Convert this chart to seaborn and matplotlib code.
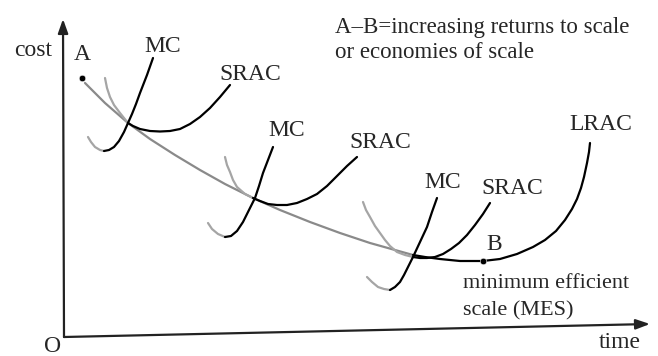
import pandas as pd
import seaborn as sns
import matplotlib.pyplot as plt

# curves, in picture units (x right, y down)
lrac_grey_x = [85, 105, 128, 150, 175, 200, 225, 253, 280, 310, 340, 370, 395, 413]
lrac_grey_y = [83, 103, 123, 139, 155, 170, 184, 198, 210, 222, 233, 243, 250, 255]
lrac_x = [413, 425, 440, 460, 483, 500, 517, 533, 545, 556, 565, 572, 577, 581, 584, 587, 589, 590]
lrac_y = [255, 257, 259, 261, 261, 259, 254, 247, 240, 231, 220, 209, 199, 188, 177, 163, 152, 143]

srac1_grey_x = [105, 107, 110, 114, 120, 128]
srac1_grey_y = [78, 88, 97, 105, 113, 123]
srac1_x = [128, 133, 140, 150, 160, 170, 180, 190, 200, 210, 220, 230]
srac1_y = [123, 126, 129, 131, 131.5, 131, 129, 124, 117, 108, 97, 85]
mc1_grey_x = [88, 91, 95, 100, 104]
mc1_grey_y = [137, 142, 147, 150, 151]
mc1_x = [104, 109, 114, 119, 124, 128, 132, 136, 140, 147, 153]
mc1_y = [151, 150, 147, 141, 132, 123, 114, 104, 93, 75, 58]

srac2_grey_x = [225, 227, 230, 233, 237, 245, 253]
srac2_grey_y = [157, 165, 172, 180, 187, 194, 198]
srac2_x = [253, 260, 268, 277, 287, 297, 307, 317, 327, 337, 347, 357]
srac2_y = [198, 201, 204, 205, 205, 203, 199, 194, 186, 176, 166, 157]
mc2_grey_x = [208, 212, 218, 225]
mc2_grey_y = [223, 229, 234, 237]
mc2_x = [225, 231, 237, 243, 249, 255, 259, 263, 268, 273]
mc2_y = [237, 236, 231, 222, 210, 198, 186, 173, 160, 147]

srac3_grey_x = [363, 366, 370, 375, 380, 385, 390, 397, 405, 413]
srac3_grey_y = [202, 210, 217, 226, 233, 240, 246, 252, 255, 257]
srac3_x = [413, 420, 427, 435, 443, 451, 459, 467, 475, 483, 490]
srac3_y = [257, 258, 258, 257, 254, 249, 243, 235, 225, 214, 203]
mc3_grey_x = [367, 372, 378, 384, 390]
mc3_grey_y = [277, 282, 287, 289, 290]
mc3_x = [390, 395, 400, 404, 408, 413, 420, 427, 432, 437]
mc3_y = [290, 287, 282, 275, 267, 257, 242, 227, 212, 198]

point_labels = ["A", "B"]
point_x = [82, 483]
point_y = [78, 261]

origin = (64, 337)
y_axis_top = (63, 19)
x_axis_end = (650, 324)

parts = {
    "lrac_grey": (lrac_grey_x, lrac_grey_y, "#8a8a8a"),
    "lrac": (lrac_x, lrac_y, "black"),
    "srac1_grey": (srac1_grey_x, srac1_grey_y, "#a5a5a5"),
    "srac1": (srac1_x, srac1_y, "black"),
    "mc1_grey": (mc1_grey_x, mc1_grey_y, "#a5a5a5"),
    "mc1": (mc1_x, mc1_y, "black"),
    "srac2_grey": (srac2_grey_x, srac2_grey_y, "#a5a5a5"),
    "srac2": (srac2_x, srac2_y, "black"),
    "mc2_grey": (mc2_grey_x, mc2_grey_y, "#a5a5a5"),
    "mc2": (mc2_x, mc2_y, "black"),
    "srac3_grey": (srac3_grey_x, srac3_grey_y, "#a5a5a5"),
    "srac3": (srac3_x, srac3_y, "black"),
    "mc3_grey": (mc3_grey_x, mc3_grey_y, "#a5a5a5"),
    "mc3": (mc3_x, mc3_y, "black"),
}

rows = []
for name, (xs, ys, _) in parts.items():
    for i, (x, y) in enumerate(zip(xs, ys)):
        rows.append({"part": name, "order": i, "x": x, "y": y})
df = pd.DataFrame(rows)
palette = {name: c for name, (_, _, c) in parts.items()}

sns.set_theme(style="white")
plt.rcParams["font.family"] = ["Liberation Serif", "DejaVu Serif"]

fig = plt.figure(figsize=(6.58, 3.56), dpi=100)
ax = fig.add_axes([0, 0, 1, 1])

sns.lineplot(
    data=df, x="x", y="y", hue="part", units="part", estimator=None,
    sort=False, palette=palette, linewidth=1.6, legend=False, ax=ax
)
sns.scatterplot(x=point_x, y=point_y, color="black", s=22, ax=ax, zorder=5)

# axes drawn as arrows, like the sketch
ax.annotate("", xy=y_axis_top, xytext=origin,
            arrowprops=dict(arrowstyle="-|>,head_length=0.7,head_width=0.25",
                            color="#222222", lw=1.6, shrinkA=0, shrinkB=0))
ax.annotate("", xy=x_axis_end, xytext=origin,
            arrowprops=dict(arrowstyle="-|>,head_length=0.7,head_width=0.25",
                            color="#222222", lw=1.6, shrinkA=0, shrinkB=0))

ax.set_xlim(0, 658)
ax.set_ylim(356, 0)
ax.axis("off")

fs = 17
ax.text(33, 50, "cost", fontsize=fs, ha="center", va="center")
ax.text(53, 347, "O", fontsize=fs, ha="center", va="center")
ax.text(620, 343, "time", fontsize=fs, ha="center", va="center")
ax.text(82, 55, point_labels[0], fontsize=fs, ha="center", va="center")
ax.text(494, 245, point_labels[1], fontsize=fs, ha="center", va="center")

ax.text(163, 47, "MC", fontsize=fs, ha="center", va="center")
ax.text(250, 74, "SRAC", fontsize=fs, ha="center", va="center")
ax.text(287, 131, "MC", fontsize=fs, ha="center", va="center")
ax.text(380, 142, "SRAC", fontsize=fs, ha="center", va="center")
ax.text(443, 183, "MC", fontsize=fs, ha="center", va="center")
ax.text(512, 188, "SRAC", fontsize=fs, ha="center", va="center")
ax.text(601, 124, "LRAC", fontsize=fs, ha="center", va="center")

ax.text(335, 27, "A\u2013B=increasing returns to scale", fontsize=16.5,
        ha="left", va="center")
ax.text(335, 53, "or economies of scale", fontsize=16.5, ha="left", va="center")
ax.text(463, 284, "minimum efficient", fontsize=16, ha="left", va="center")
ax.text(463, 311, "scale (MES)", fontsize=16, ha="left", va="center")

fig.savefig("out.png", dpi=100)
